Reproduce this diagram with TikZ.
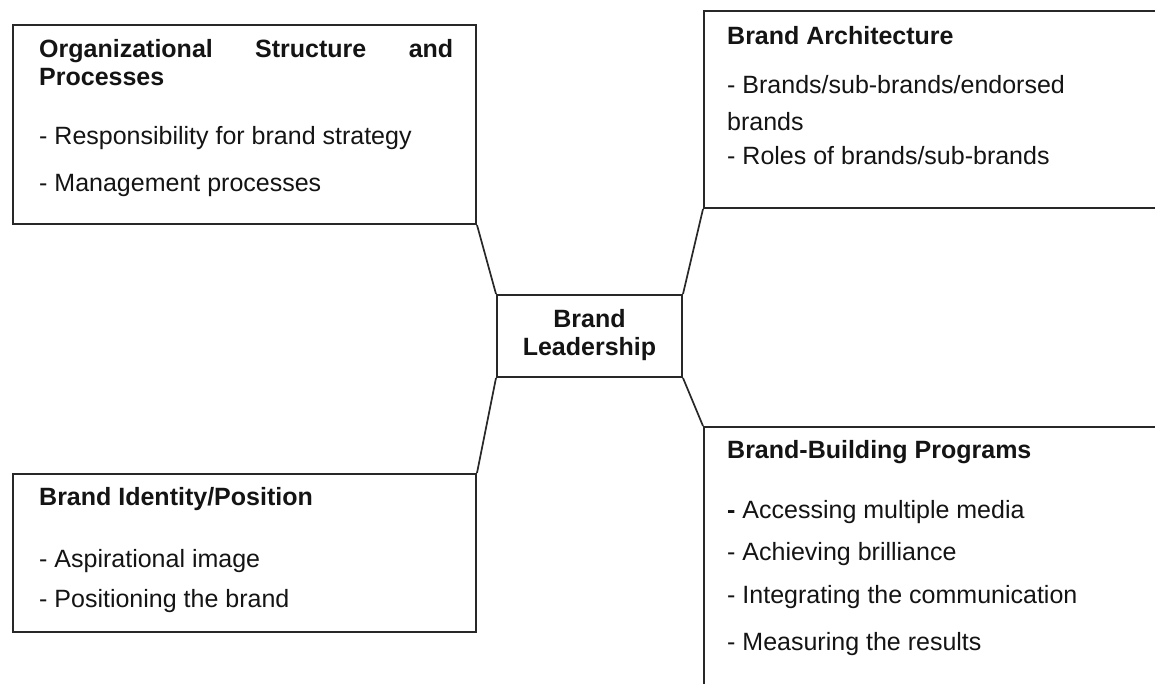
\documentclass[tikz,border=0pt]{standalone}
\usepackage{fontspec}
\setmainfont{Liberation Sans}
\definecolor{ln}{RGB}{40,40,40}
\definecolor{tx}{RGB}{20,20,20}
\begin{document}
\begin{tikzpicture}[x=1pt,y=-1pt,
  box/.style={draw=ln,line width=2pt,inner sep=0pt,anchor=north west},
  link/.style={draw=ln,line width=1.7pt},
  ttl/.style={anchor=base west,inner sep=0pt,text=tx,font=\bfseries\fontsize{25}{30}\selectfont},
  itm/.style={anchor=base west,inner sep=0pt,text=tx,font=\fontsize{25}{30}\selectfont}]
\useasboundingbox (0,0) rectangle (1155,684);
\clip (0,0) rectangle (1155,684);
\fill[white] (0,0) rectangle (1155,684);
% boxes
\node[box,minimum width=463pt,minimum height=199pt] (tl) at (12,24) {};
\node[box,minimum width=520pt,minimum height=197pt] (tr) at (703,10) {};
\node[box,minimum width=463pt,minimum height=158pt] (bl) at (12,473) {};
\node[box,minimum width=520pt,minimum height=300pt] (br) at (703,426) {};
\node[draw=ln,line width=2pt,inner sep=0pt,minimum width=185pt,minimum height=82pt] (c) at (589.5,336) {};
% connectors
\draw[link] (tl.south east) -- (c.north west);
\draw[link] (tr.south west) -- (c.north east);
\draw[link] (bl.north east) -- (c.south west);
\draw[link] (br.north west) -- (c.south east);
% centre text
\node[anchor=base,inner sep=0pt,text=tx,font=\bfseries\fontsize{25}{30}\selectfont] (c1) at (589.5,327) {Brand};
\node[anchor=base,inner sep=0pt,text=tx,font=\bfseries\fontsize{25}{30}\selectfont] (c2) at (589.5,355) {Leadership};
% top-left
\node[ttl] (tl1) at (39,58) {\hbox to 414pt{Organizational\hfill Structure\hfill and}};
\node[ttl] (tl2) at (39,86) {Processes};
\node[itm] (tl3) at (39,145) {- Responsibility for brand strategy};
\node[itm] (tl4) at (39,192) {- Management processes};
% top-right
\node[ttl] (tr1) at (727,45) {Brand Architecture};
\node[itm] (tr2) at (727,94) {- Brands/sub-brands/endorsed};
\node[itm] (tr3) at (727,131) {brands};
\node[itm] (tr4) at (727,165) {- Roles of brands/sub-brands};
% bottom-left
\node[ttl] (bl1) at (39,505) {Brand Identity/Position};
\node[itm] (bl2) at (39,567) {- Aspirational image};
\node[itm] (bl3) at (39,607) {- Positioning the brand};
% bottom-right
\node[ttl] (br1) at (727,458) {Brand-Building Programs};
\node[itm] (br2) at (727,518) {\textbf{-} Accessing multiple media};
\node[itm] (br3) at (727,560) {- Achieving brilliance};
\node[itm] (br4) at (727,603) {- Integrating the communication};
\node[itm] (br5) at (727,650) {- Measuring the results};
\end{tikzpicture}
\end{document}
